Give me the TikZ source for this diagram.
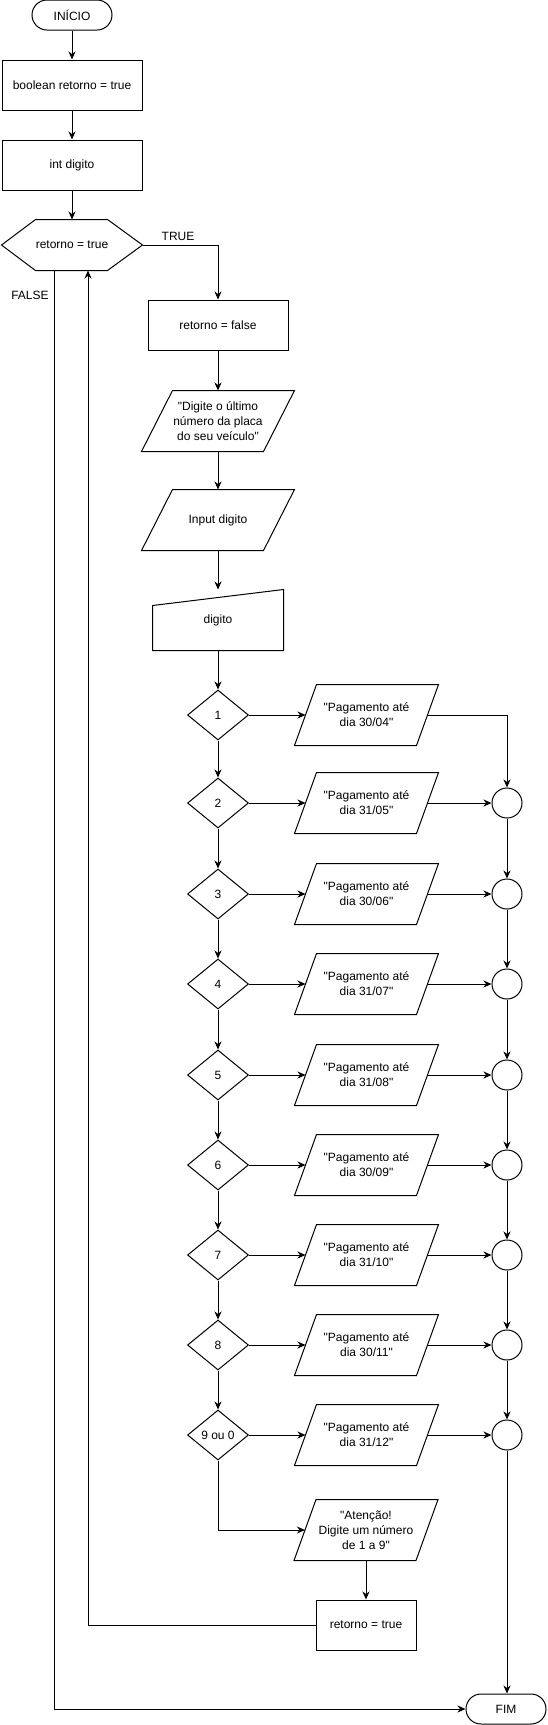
\documentclass[tikz,border=0pt]{standalone}
\usepackage{fontspec}
\setmainfont{Liberation Sans}[Ligatures=TeXOff]
\usetikzlibrary{arrows.meta,shapes.geometric,calc}
\begin{document}
\begin{tikzpicture}[x=1pt,y=-1pt, line width=1pt, font=\fontsize{12}{15}\selectfont,
 arr/.style={-{Stealth[length=8pt,width=7pt,inset=2.5pt]}},
 box/.style={draw, rectangle, minimum width=140pt, minimum height=50pt, inner sep=0pt, align=center},
 term/.style={draw, rectangle, rounded corners=15pt, minimum width=80pt, minimum height=30pt, inner sep=0pt},
 pbox/.style={rectangle, minimum width=121pt, minimum height=60pt, inner sep=0pt, align=center},
 dec/.style={draw, diamond, minimum width=61pt, minimum height=50pt, inner sep=0pt},
 conn/.style={draw, circle, minimum size=30pt, inner sep=0pt},
 lbl/.style={inner sep=0pt}]
\useasboundingbox (0,0) rectangle (547,1725);
\fill[white] (0,0) rectangle (547,1725);

% top column
\node[term] (ini) at (72,15) {INÍCIO};
\node[box] (bool) at (72,85) {boolean retorno = true};
\node[box] (intd) at (72,165) {int digito};
\node[rectangle, minimum width=140pt, minimum height=50pt, inner sep=0pt] (hex) at (72,245) {retorno = true};
\draw (hex.west) -- ([xshift=34pt]hex.north west) -- ([xshift=-35pt]hex.north east) -- (hex.east)
  -- ([xshift=-35pt]hex.south east) -- ([xshift=34pt]hex.south west) -- cycle;

\node[lbl] (tl) at (178,236) {TRUE};
\node[lbl] (fl) at (30,295) {FALSE};

% second column
\node[box] (rf) at (218,325) {retorno = false};
\node[pbox] (dig) at (218,421) {"Digite o último\\número da placa\\do seu veículo"};
\node[pbox] (inp) at (218,520) {Input digito};
\node[rectangle, minimum width=130pt, minimum height=60pt, inner sep=0pt] (man) at (218,620) {digito};
\draw (man.south west) -- ([yshift=-16pt]man.north west) -- (man.north east) -- (man.south east) -- cycle;
\foreach \n in {dig,inp}
  \draw ([xshift=-15.5pt]\n.south west) -- ([xshift=15.5pt]\n.north west) -- ([xshift=15.5pt]\n.north east) -- ([xshift=-15.5pt]\n.south east) -- cycle;

% rows
\foreach \i/\y/\t/\dd in {1/715/1/{30/04},2/803/2/{31/05},3/894/3/{30/06},4/984/4/{31/07},5/1075/5/{31/08},6/1165/6/{30/09},7/1255/7/{31/10},8/1345/8/{30/11},9/1435/9 ou 0/{31/12}}{
  \node[dec] (d\i) at (218,\y) {\t};
  \node[pbox] (p\i) at (366.5,\y) {"Pagamento até\\dia \dd"};
}
\foreach \i/\y in {2/803,3/894,4/984,5/1075,6/1165,7/1255,8/1345,9/1435}
  \node[conn] (c\i) at (507,\y) {};

\node[pbox] (patt) at (366,1530) {"Atenção!\\Digite um número\\de 1 a 9"};
\foreach \n in {p1,p2,p3,p4,p5,p6,p7,p8,p9,patt}
  \draw ([xshift=-11pt]\n.south west) -- ([xshift=11pt]\n.north west) -- ([xshift=11pt]\n.north east) -- ([xshift=-11pt]\n.south east) -- cycle;

\node[box, minimum width=100pt] (rt) at (366,1625) {retorno = true};
\node[term] (fim) at (506,1709) {FIM};

\coordinate (fx) at (54,0);
\coordinate (rx) at (88,0);

% connectors
\draw[arr] (ini) -- (bool);
\draw[arr] (bool) -- (intd);
\draw[arr] (intd) -- (hex.north);
\draw[arr] (hex.east) -| (rf.north);
\draw[arr] (rf) -- (dig);
\draw[arr] (dig) -- (inp);
\draw[arr] (inp) -- (man.north);
\draw[arr] (man.south) -- (d1.north);
\foreach \i [count=\j from 2] in {1,...,8} \draw[arr] (d\i.south) -- (d\j.north);
\foreach \i in {1,...,9} \draw[arr] (d\i.east) -- (p\i.west);
\foreach \i in {2,...,9} \draw[arr] (p\i.east) -- (c\i.west);
\draw[arr] (p1.east) -| (c2.north);
\foreach \i [count=\j from 3] in {2,...,8} \draw[arr] (c\i.south) -- (c\j.north);
\draw[arr] (c9.south) -- (c9.south |- fim.north);
\draw[arr] (d9.south) |- (patt.west);
\draw[arr] (patt.south) -- (rt.north);
\draw[arr] (rt.west) -| (hex.south -| rx);
\draw[arr] (hex.south -| fx) |- (fim.west);
\end{tikzpicture}
\end{document}
